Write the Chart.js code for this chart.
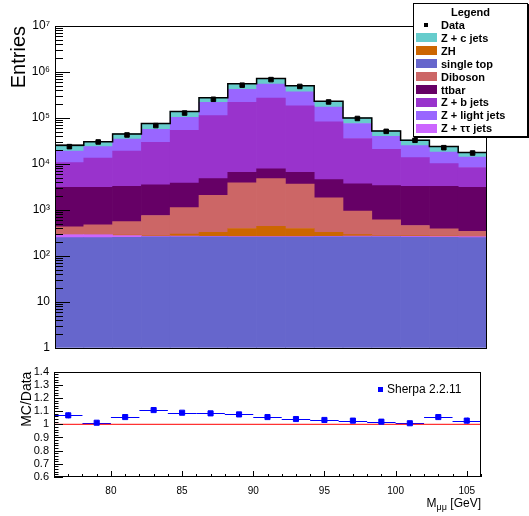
<!DOCTYPE html>
<html><head><meta charset="utf-8">
<script src="https://cdn.jsdelivr.net/npm/chart.js@4/dist/chart.umd.min.js"></script>
<style>
html,body{margin:0;padding:0;background:#fff;}
body{width:529px;height:516px;position:relative;overflow:hidden;font-family:"Liberation Sans",Arial,sans-serif;}
#cTop{position:absolute;left:0;top:0;}
#cBot{position:absolute;left:0;top:360px;}
#legend{position:absolute;left:413px;top:3px;width:113px;height:132px;background:#fff;border:1px solid #000;box-shadow:1px 1px 0 #000;font:bold 11px "Liberation Sans",Arial,sans-serif;color:#000;}
#legend .hdr{position:absolute;left:0;width:100%;top:2px;text-align:center;line-height:12px;}
#legend .row{position:absolute;left:0;height:12px;line-height:12px;white-space:nowrap;}
#legend .sw{position:absolute;left:2px;top:1.5px;width:21px;height:9px;}
#legend .mk{position:absolute;left:10px;top:4px;width:4px;height:4px;background:#000;}
#legend .tx{position:absolute;left:27px;top:0;}
#sherpa{position:absolute;left:378px;top:382px;height:14px;line-height:14px;font:12px "Liberation Sans",Arial,sans-serif;color:#000;white-space:nowrap;}
#sherpa .mk{position:absolute;left:0;top:4.5px;width:5px;height:5px;background:#0000ff;}
#sherpa .tx{position:absolute;left:9px;top:0;}
</style>
</head><body>
<canvas id="cTop" width="529" height="360"></canvas>
<canvas id="cBot" width="529" height="156"></canvas>
<div id="legend"></div>
<div id="sherpa"><span class="mk"></span><span class="tx">Sherpa 2.2.11</span></div>
<script>
// ---- data ----
const binEdges   = [76,78,80,82,84,86,88,90,92,94,96,98,100,102,104,106];
const binCenters = [77,79,81,83,85,87,89,91,93,95,97,99,101,103,105];

const singleTop = [250,250,252,258,258,258,255,255,255,258,260,258,255,252,250];
const zTauTau   = [40,40,25,10,10,8,8,8,8,8,10,12,12,12,12];
const zh        = [2,3,5,10,30,60,130,175,130,60,20,8,5,4,3];
const diboson   = [136,180,274,478,821,1759,3493,4359,3234,1501,648,326,185,121,75];
const ttbar     = [2660,2610,2690,2770,2690,2710,2640,3030,2900,2740,2760,2780,2780,2850,2750];
const zbJets    = [7570,10330,15670,25860,49870,107100,212400,262500,176200,77620,32040,17470,10510,6910,5260];
const zLight    = [8250,10380,15630,27000,49820,107060,201240,277000,187300,89210,39880,19150,11250,7850,5750];
const zcJets    = [6460,6610,10460,19240,35400,56740,135300,173000,133700,58500,24380,12120,7890,5800,3650];
const dataVals  = [23770,30030,42650,68280,127700,254700,516700,682700,484300,222700,97320,51100,32650,22560,17270];
const mcStatErr = [0.05,0.015,0.015,0.025,0.02,0.01,0.01,0.01,0.01,0.01,0.012,0.015,0.015,0.015,0.015];

const ratio     = [1.068,1.012,1.055,1.108,1.088,1.083,1.075,1.055,1.040,1.033,1.028,1.020,1.008,1.055,1.028];
const ratioErr  = [0.022,0.018,0.012,0.010,0.008,0.007,0.007,0.007,0.007,0.008,0.010,0.012,0.015,0.022,0.022];

const yMajorTicks  = [1,10,100,1000,10000,100000,1000000,10000000];
const ratioXTicks  = [80,85,90,95,100,105];
const ratioYTicks  = [0.6,0.7,0.8,0.9,1.0,1.1,1.2,1.3,1.4];
const legendOrder  = ['Data','Z + c jets','ZH','single top','Diboson','ttbar','Z + b jets','Z + light jets','Z + ττ jets'];

// ---- styles ----
const FONT = '"Liberation Sans", Arial, sans-serif';
const stackDefs = [
  {label:'single top',     data:singleTop, color:'#6666cc'},
  {label:'Z + ττ jets',    data:zTauTau,   color:'#cc66ff'},
  {label:'ZH',             data:zh,        color:'#cc6600'},
  {label:'Diboson',        data:diboson,   color:'#cc6666'},
  {label:'ttbar',          data:ttbar,     color:'#660066'},
  {label:'Z + b jets',     data:zbJets,    color:'#9933cc'},
  {label:'Z + light jets', data:zLight,    color:'#9966ff'},
  {label:'Z + c jets',     data:zcJets,    color:'#66cccc'}
];
const sup = {'0':'⁰','1':'¹','2':'²','3':'³','4':'⁴','5':'⁵','6':'⁶','7':'⁷','8':'⁸','9':'⁹'};
function fmtLog(v){
  const l = Math.log10(v), r = Math.round(l);
  if (Math.abs(l - r) > 1e-9) return '';
  if (r === 0) return '1';
  if (r === 1) return '10';
  return '10' + String(r).split('').map(c=>sup[c]).join('');
}
const logTicks = [];
yMajorTicks.forEach((m,i)=>{
  logTicks.push(m);
  if (i < yMajorTicks.length-1) for (let k=2;k<=9;k++) logTicks.push(m*k);
});

// ---- top panel ----
const topDecor = {
  id:'topDecor',
  beforeDatasetDraw(chart, args){
    if (chart.data.datasets[args.index].label !== 'Data') return;
    const ctx = chart.ctx, ys = chart.scales.y;
    const meta = chart.getDatasetMeta(stackDefs.length-1);
    const totals = binCenters.map((_,i)=>stackDefs.reduce((s,d)=>s+d.data[i],0));
    ctx.save();
    ctx.fillStyle = 'rgba(0,0,0,0.4)';
    meta.data.forEach((el,i)=>{
      const y1 = ys.getPixelForValue(totals[i]*(1+mcStatErr[i]));
      const y2 = ys.getPixelForValue(totals[i]*(1-mcStatErr[i]));
      ctx.fillRect(el.x-el.width/2, y1, el.width, y2-y1);
    });
    ctx.strokeStyle = '#000'; ctx.lineWidth = 1.5;
    ctx.beginPath();
    meta.data.forEach((el,i)=>{
      const x0 = el.x-el.width/2, x1 = el.x+el.width/2;
      if (i===0) ctx.moveTo(x0, el.y); else ctx.lineTo(x0, el.y);
      ctx.lineTo(x1, el.y);
    });
    ctx.stroke();
    ctx.restore();
  },
  afterDraw(chart){
    const ctx = chart.ctx, ca = chart.chartArea, ys = chart.scales.y;
    ctx.save();
    ctx.strokeStyle = '#000'; ctx.lineWidth = 1;
    ctx.strokeRect(Math.round(ca.left)+0.5, Math.round(ca.top)+0.5, Math.round(ca.right-ca.left)-1, Math.round(ca.bottom-ca.top));
    ctx.beginPath();
    ys.ticks.forEach(t=>{
      const p = Math.round(ys.getPixelForValue(t.value))+0.5;
      const len = fmtLog(t.value) ? 15 : 8;
      ctx.moveTo(ca.left, p); ctx.lineTo(ca.left+len, p);
    });
    ctx.stroke();
    ctx.restore();
  }
};

const topDatasets = stackDefs.map(d=>({
  type:'bar', label:d.label, data:d.data, backgroundColor:d.color, borderWidth:0,
  stack:'mc', categoryPercentage:1, barPercentage:1
}));
topDatasets.push({
  type:'line', label:'Data', data:dataVals, showLine:false, stack:'data', order:-1,
  pointStyle:'rect', pointRadius:3.2, pointBackgroundColor:'#000', pointBorderColor:'#000', borderColor:'#000', backgroundColor:'#000'
});

const topChart = new Chart(document.getElementById('cTop'), {
  data:{labels:binCenters, datasets:topDatasets},
  options:{
    responsive:false, animation:false, devicePixelRatio:1,
    layout:{padding:{left:0, right:42, top:26, bottom:5}},
    plugins:{legend:{display:false}, tooltip:{enabled:false}},
    scales:{
      x:{type:'category', display:false, stacked:true, offset:true},
      y:{type:'logarithmic', stacked:true, min:1, max:1e7,
         afterFit(s){ s.width = 55; },
         afterBuildTicks(s){ s.ticks = logTicks.map(v=>({value:v})); },
         grid:{display:false, drawTicks:false}, border:{display:false},
         ticks:{autoSkip:false, padding:5, color:'#000', font:{family:FONT, size:12}, callback:(v)=>fmtLog(v)},
         title:{display:true, text:'Entries', align:'end', color:'#000', font:{family:FONT, size:20}, padding:{top:7, bottom:0}}
      }
    }
  },
  plugins:[topDecor]
});

// ---- legend (HTML, built from the chart's datasets) ----
(function(){
  const box = document.getElementById('legend');
  const hdr = document.createElement('div'); hdr.className='hdr'; hdr.textContent='Legend'; box.appendChild(hdr);
  legendOrder.forEach((lab,i)=>{
    const ds = topChart.data.datasets.find(d=>d.label===lab);
    const row = document.createElement('div'); row.className='row';
    row.style.top = (15 + i*12.9) + 'px'; row.style.width='100%';
    const sw = document.createElement('span');
    if (ds.type === 'line') { sw.className='mk'; } else { sw.className='sw'; sw.style.background = ds.backgroundColor; }
    const tx = document.createElement('span'); tx.className='tx'; tx.textContent = ds.label;
    row.appendChild(sw); row.appendChild(tx); box.appendChild(row);
  });
})();

// ---- ratio panel ----
const botDecor = {
  id:'botDecor',
  beforeDatasetsDraw(chart){
    const ctx = chart.ctx, xs = chart.scales.x, ys = chart.scales.y;
    ctx.save();
    ctx.strokeStyle = '#0000ff'; ctx.lineWidth = 1;
    ctx.beginPath();
    binCenters.forEach((c,i)=>{
      const py = Math.round(ys.getPixelForValue(ratio[i]))+0.5;
      ctx.moveTo(xs.getPixelForValue(binEdges[i]), py);
      ctx.lineTo(xs.getPixelForValue(binEdges[i+1]), py);
      const px = Math.round(xs.getPixelForValue(c))+0.5;
      ctx.moveTo(px, ys.getPixelForValue(ratio[i]+ratioErr[i]));
      ctx.lineTo(px, ys.getPixelForValue(ratio[i]-ratioErr[i]));
    });
    ctx.stroke();
    ctx.restore();
  },
  afterDraw(chart){
    const ctx = chart.ctx, ca = chart.chartArea, xs = chart.scales.x, ys = chart.scales.y;
    ctx.save();
    ctx.strokeStyle = '#000'; ctx.lineWidth = 1;
    ctx.strokeRect(Math.round(ca.left)+0.5, Math.round(ca.top)+0.5, Math.round(ca.right-ca.left)-1, Math.round(ca.bottom-ca.top)-1);
    ctx.beginPath();
    for (let v=0.6; v<=1.4001; v+=0.02){
      const p = Math.round(ys.getPixelForValue(v))+0.5;
      const major = Math.abs(v*10-Math.round(v*10))<1e-6;
      ctx.moveTo(ca.left, p); ctx.lineTo(ca.left+(major?9:4.5), p);
    }
    for (let v=76; v<=106; v+=1){
      const p = Math.round(xs.getPixelForValue(v))+0.5;
      const major = v%5===0;
      ctx.moveTo(p, ca.bottom); ctx.lineTo(p, ca.bottom-(major?6:3));
    }
    ctx.stroke();
    // x-axis title with subscript
    ctx.fillStyle = '#000'; ctx.textBaseline = 'alphabetic'; ctx.textAlign = 'left';
    const base = ca.bottom + 30;
    const fMain = '12px ' + FONT, fSub = '9px ' + FONT;
    ctx.font = fMain; const wM = ctx.measureText('M').width, wT = ctx.measureText(' [GeV]').width;
    ctx.font = fSub;  const wS = ctx.measureText('μμ').width;
    let x = ca.right - (wM + wS + wT);
    ctx.font = fMain; ctx.fillText('M', x, base); x += wM;
    ctx.font = fSub;  ctx.fillText('μμ', x, base+3); x += wS;
    ctx.font = fMain; ctx.fillText(' [GeV]', x, base);
    ctx.restore();
  }
};

new Chart(document.getElementById('cBot'), {
  data:{datasets:[
    {type:'scatter', label:'Sherpa 2.2.11', data:binCenters.map((c,i)=>({x:c, y:ratio[i]})), order:-1,
     pointStyle:'rect', pointRadius:3.6, pointBackgroundColor:'#0000ff', pointBorderColor:'#0000ff', backgroundColor:'#0000ff', borderColor:'#0000ff'},
    {type:'line', label:'MC = Data', data:[{x:binEdges[0], y:1}, {x:binEdges[binEdges.length-1], y:1}],
     borderColor:'#ff0000', borderWidth:1, pointRadius:0, fill:false}
  ]},
  options:{
    responsive:false, animation:false, devicePixelRatio:1,
    layout:{padding:{left:0, right:48, top:10, bottom:0}},
    plugins:{legend:{display:false}, tooltip:{enabled:false}},
    scales:{
      x:{type:'linear', min:binEdges[0], max:binEdges[binEdges.length-1],
         afterFit(s){ s.height = 39; },
         afterBuildTicks(s){ s.ticks = ratioXTicks.map(v=>({value:v})); },
         grid:{display:false, drawTicks:false}, border:{display:false},
         ticks:{autoSkip:false, maxRotation:0, padding:8, color:'#000', font:{family:FONT, size:10}, callback:(v)=>String(v)}
      },
      y:{type:'linear', min:0.6, max:1.4,
         afterFit(s){ s.width = 54; },
         afterBuildTicks(s){ s.ticks = ratioYTicks.map(v=>({value:v})); },
         grid:{display:false, drawTicks:false}, border:{display:false},
         ticks:{autoSkip:false, padding:5, color:'#000', font:{family:FONT, size:11},
                callback:(v)=> Math.abs(v-1)<1e-9 ? '1' : Number(v).toFixed(1)},
         title:{display:true, text:'MC/Data', align:'end', color:'#000', font:{family:FONT, size:14}, padding:{top:19, bottom:0}}
      }
    }
  },
  plugins:[botDecor]
});
</script>
</body></html>
